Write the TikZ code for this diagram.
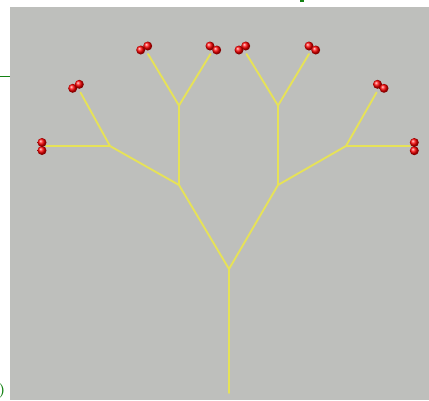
\documentclass[tikz,border=0pt]{standalone}
\usepackage{tikz}
\usetikzlibrary{positioning,calc,shadings}

\definecolor{panelgray}{RGB}{190,191,188}
\definecolor{twigyellow}{RGB}{230,226,88}
\definecolor{pagegreen}{RGB}{20,130,20}

\begin{document}
\begin{tikzpicture}[x=1pt, y=-1pt,
    branch/.style={draw=twigyellow, line width=1.9pt, line cap=round},
    berry/.style={circle, inner sep=0pt, minimum size=9pt, shading=ball, ball color=red}]
  \useasboundingbox (0,0) rectangle (429,400);
  % background panel
  \fill[panelgray] (10,7) rectangle (429,400);
  % bits of the page around the panel
  \coordinate (rule west) at (0,76.5);
  \coordinate (rule east) at (10,76.5);
  \draw[pagegreen, line width=1.4pt] (rule west) -- (rule east);
  \fill[pagegreen] (300,0) rectangle (303.5,2.2);
  \node[text=pagegreen, font=\Large\bfseries, inner sep=0pt, anchor=east] (paren) at (5.5,391) {)};
  % junctions
  \coordinate (base) at (229,393);
  \coordinate (fork) at (229,269);
  \coordinate (L) at (179,185);
  \coordinate (R) at (278,185);
  \coordinate (LL) at (110,146);
  \coordinate (LU) at (179,105.5);
  \coordinate (RR) at (346,146);
  \coordinate (RU) at (278,105.5);
  % tips
  \coordinate (LLL) at (46,146);
  \coordinate (LLU) at (80.5,92.5);
  \coordinate (LUL) at (148,54);
  \coordinate (LUR) at (210.5,54);
  \coordinate (RUL) at (246.5,54);
  \coordinate (RUR) at (309,54);
  \coordinate (RRU) at (376.5,92.5);
  \coordinate (RRR) at (410,146);
  % branches
  \draw[branch] (base) -- (fork);
  \draw[branch] (fork) -- (L);
  \draw[branch] (fork) -- (R);
  \draw[branch] (L) -- (LL);
  \draw[branch] (L) -- (LU);
  \draw[branch] (R) -- (RR);
  \draw[branch] (R) -- (RU);
  \draw[branch] (LL) -- (LLL);
  \draw[branch] (LL) -- (LLU);
  \draw[branch] (LU) -- (LUL);
  \draw[branch] (LU) -- (LUR);
  \draw[branch] (RU) -- (RUL);
  \draw[branch] (RU) -- (RUR);
  \draw[branch] (RR) -- (RRU);
  \draw[branch] (RR) -- (RRR);
  % berries
  \node[berry] (LLL a) at (42,150.5) {};
  \node[berry] (LLL b) at (42,142.5) {};
  \node[berry] (LLU a) at (72.7,88.3) {};
  \node[berry] (LLU b) at (79.3,84.3) {};
  \node[berry] (LUL a) at (140.7,50) {};
  \node[berry] (LUL b) at (147.7,46) {};
  \node[berry] (LUR a) at (210,46) {};
  \node[berry] (LUR b) at (216.7,50) {};
  \node[berry] (RUL a) at (239,50) {};
  \node[berry] (RUL b) at (245.7,46) {};
  \node[berry] (RUR a) at (309,46) {};
  \node[berry] (RUR b) at (315.7,50) {};
  \node[berry] (RRU a) at (377.5,84.3) {};
  \node[berry] (RRU b) at (384,88.3) {};
  \node[berry] (RRR a) at (414.3,150.7) {};
  \node[berry] (RRR b) at (414.3,142.5) {};
\end{tikzpicture}
\end{document}
